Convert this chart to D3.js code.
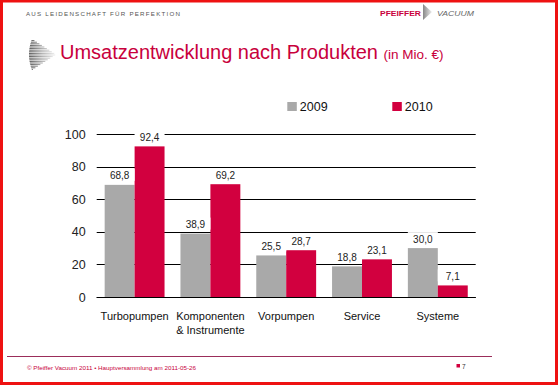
<!DOCTYPE html>
<html><head><meta charset="utf-8">
<script src="https://cdn.jsdelivr.net/npm/d3@7/dist/d3.min.js"></script>
<style>
html,body{margin:0;padding:0;background:#fff;}
svg{display:block;font-family:"Liberation Sans",Arial,sans-serif;}
</style></head>
<body>
<svg id="c" width="559" height="385"></svg>
<script>
const categories = [["Turbopumpen"], ["Komponenten", "& Instrumente"], ["Vorpumpen"], ["Service"], ["Systeme"]];
const series = ["2009", "2010"];
const values2009 = [68.8, 38.9, 25.5, 18.8, 30.0];
const values2010 = [92.4, 69.2, 28.7, 23.1, 7.1];
const yTicks = [0, 20, 40, 60, 80, 100];

const colors = {"2009": "#a9a9a9", "2010": "#d2003f"};
const svg = d3.select("#c");

// frame
svg.append("rect").attr("x",0).attr("y",0).attr("width",559).attr("height",385).attr("fill","#ffffff");
svg.append("rect").attr("x",1.5).attr("y",1).attr("width",555).attr("height",382.5)
  .attr("fill","none").attr("stroke","#ee1111").attr("stroke-width",3);

// header
svg.append("text").attr("x",26).attr("y",15.5).attr("font-size",6.2).attr("fill","#555")
  .attr("textLength",154).attr("lengthAdjust","spacing").text("AUS LEIDENSCHAFT FÜR PERFEKTION");
svg.append("text").attr("x",380).attr("y",15.5).attr("font-size",7.5).attr("font-weight","bold")
  .attr("fill","#c8003c").attr("textLength",41).attr("lengthAdjust","spacingAndGlyphs").text("PFEIFFER");
const defs = svg.append("defs");
const lg = defs.append("linearGradient").attr("id","lg").attr("x1","0").attr("x2","1");
lg.append("stop").attr("offset","0").attr("stop-color","#888");
lg.append("stop").attr("offset","1").attr("stop-color","#eee");
svg.append("path").attr("d","M423,4 L432,12 L423,20 Z").attr("fill","url(#lg)");
svg.append("text").attr("x",437).attr("y",15.5).attr("font-size",7.5).attr("font-style","italic")
  .attr("fill","#666").attr("textLength",37).attr("lengthAdjust","spacingAndGlyphs").text("VACUUM");

// title icon: horizontal lines forming a right-pointing arrowhead with dark curved left edge
const ig = defs.append("linearGradient").attr("id","ig").attr("gradientUnits","userSpaceOnUse")
  .attr("x1",29).attr("x2",56).attr("y1",0).attr("y2",0);
ig.append("stop").attr("offset","0").attr("stop-color","#222");
ig.append("stop").attr("offset","0.5").attr("stop-color","#999");
ig.append("stop").attr("offset","1").attr("stop-color","#eee");
const icon = svg.append("g");
for (let yy = 39; yy <= 70; yy += 1.6) {
  const d = Math.abs(yy - 54.5) / 15.5;
  const xs = 29 + d * d * 3;
  const xe = 56 - d * 24;
  if (xe <= xs + 0.5) continue;
  icon.append("line").attr("x1", xs).attr("y1", yy).attr("x2", xe).attr("y2", yy)
    .attr("stroke","url(#ig)").attr("stroke-width",0.8);
}

// title
const title = svg.append("text").attr("x",60).attr("y",59).attr("fill","#c8003c");
title.append("tspan").attr("font-size",20).text("Umsatzentwicklung nach Produkten ");
title.append("tspan").attr("font-size",13.5).text("(in Mio. €)");

// chart
const x0 = d3.scaleBand().domain(categories.map(d => d[0])).range([96.7, 475.7])
  .paddingInner(0.21).paddingOuter(0.105);
const x1 = d3.scaleBand().domain(series).range([0, x0.bandwidth()]);
const y = d3.scaleLinear().domain([0, 100]).range([297, 134]);

const grid = svg.append("g");
grid.selectAll("line").data(yTicks).join("line")
  .attr("x1", 96.7).attr("x2", 475.7)
  .attr("y1", d => Math.round(y(d)) + 0.5).attr("y2", d => Math.round(y(d)) + 0.5)
  .attr("stroke", "#000").attr("stroke-width", 1.2);

const yAxis = d3.axisLeft(y).tickValues(yTicks).tickSize(0).tickPadding(11);
const ya = svg.append("g").attr("transform","translate(96.7,0)").call(yAxis);
ya.select(".domain").remove();
ya.selectAll("text").attr("font-size",12.5).attr("fill","#222")
  .attr("font-family","'Liberation Sans',Arial,sans-serif");

const rows = categories.map((c, i) => ({cat: c, vals: [{s:"2009", v:values2009[i]}, {s:"2010", v:values2010[i]}]}));
const groups = svg.append("g").selectAll("g").data(rows).join("g")
  .attr("transform", d => `translate(${x0(d.cat[0])},0)`);
groups.selectAll("rect.bar").data(d => d.vals).join("rect").attr("class","bar")
  .attr("x", d => x1(d.s)).attr("width", x1.bandwidth())
  .attr("y", d => y(d.v)).attr("height", d => y(0) - y(d.v))
  .attr("fill", d => colors[d.s]);

// baseline on top
svg.append("line").attr("x1",96.7).attr("x2",475.7).attr("y1",Math.round(y(0))+0.5).attr("y2",Math.round(y(0))+0.5)
  .attr("stroke","#000").attr("stroke-width",1.2);

// value labels
const fmt = v => v.toFixed(1).replace(".", ",");
const lbl = groups.selectAll("g.lbl").data(d => d.vals).join("g").attr("class","lbl");
lbl.append("rect")
  .attr("x", d => x1(d.s) + x1.bandwidth()/2 - 15).attr("width", 30)
  .attr("y", d => y(d.v) - 16).attr("height", 12).attr("fill","#fff");
lbl.append("text")
  .attr("x", d => x1(d.s) + x1.bandwidth()/2).attr("y", d => y(d.v) - 5.5)
  .attr("text-anchor","middle").attr("font-size",10).attr("fill","#222")
  .text(d => fmt(d.v));

// category labels
groups.append("text").attr("text-anchor","middle").attr("font-size",11).attr("fill","#111")
  .attr("x", x0.bandwidth()/2)
  .selectAll("tspan").data(d => d.cat).join("tspan")
  .attr("x", x0.bandwidth()/2).attr("y", (d, i) => 319.5 + i * 14.5).text(d => d);

// legend
const legendX = [287.3, 392.3];
const leg = svg.append("g").selectAll("g").data(series).join("g")
  .attr("transform", (d, i) => `translate(${legendX[i]},102)`);
leg.append("rect").attr("width",9.5).attr("height",9).attr("fill", d => colors[d]);
leg.append("text").attr("x",12.5).attr("y",9).attr("font-size",12.5).attr("fill","#111").text(d => d);

// footer
svg.append("line").attr("x1",7).attr("x2",492).attr("y1",356.5).attr("y2",356.5)
  .attr("stroke","#9b2d5a").attr("stroke-width",1);
svg.append("text").attr("x",27).attr("y",369.5).attr("font-size",6).attr("fill","#c8003c")
  .attr("textLength",169).attr("lengthAdjust","spacingAndGlyphs")
  .text("© Pfeiffer Vacuum 2011  • Hauptversammlung am 2011-05-26");
svg.append("rect").attr("x",456.5).attr("y",364).attr("width",3.5).attr("height",3.5).attr("fill","#d2003f");
svg.append("text").attr("x",462).attr("y",368.5).attr("font-size",6.5).attr("fill","#333").text("7");
</script>
</body></html>
